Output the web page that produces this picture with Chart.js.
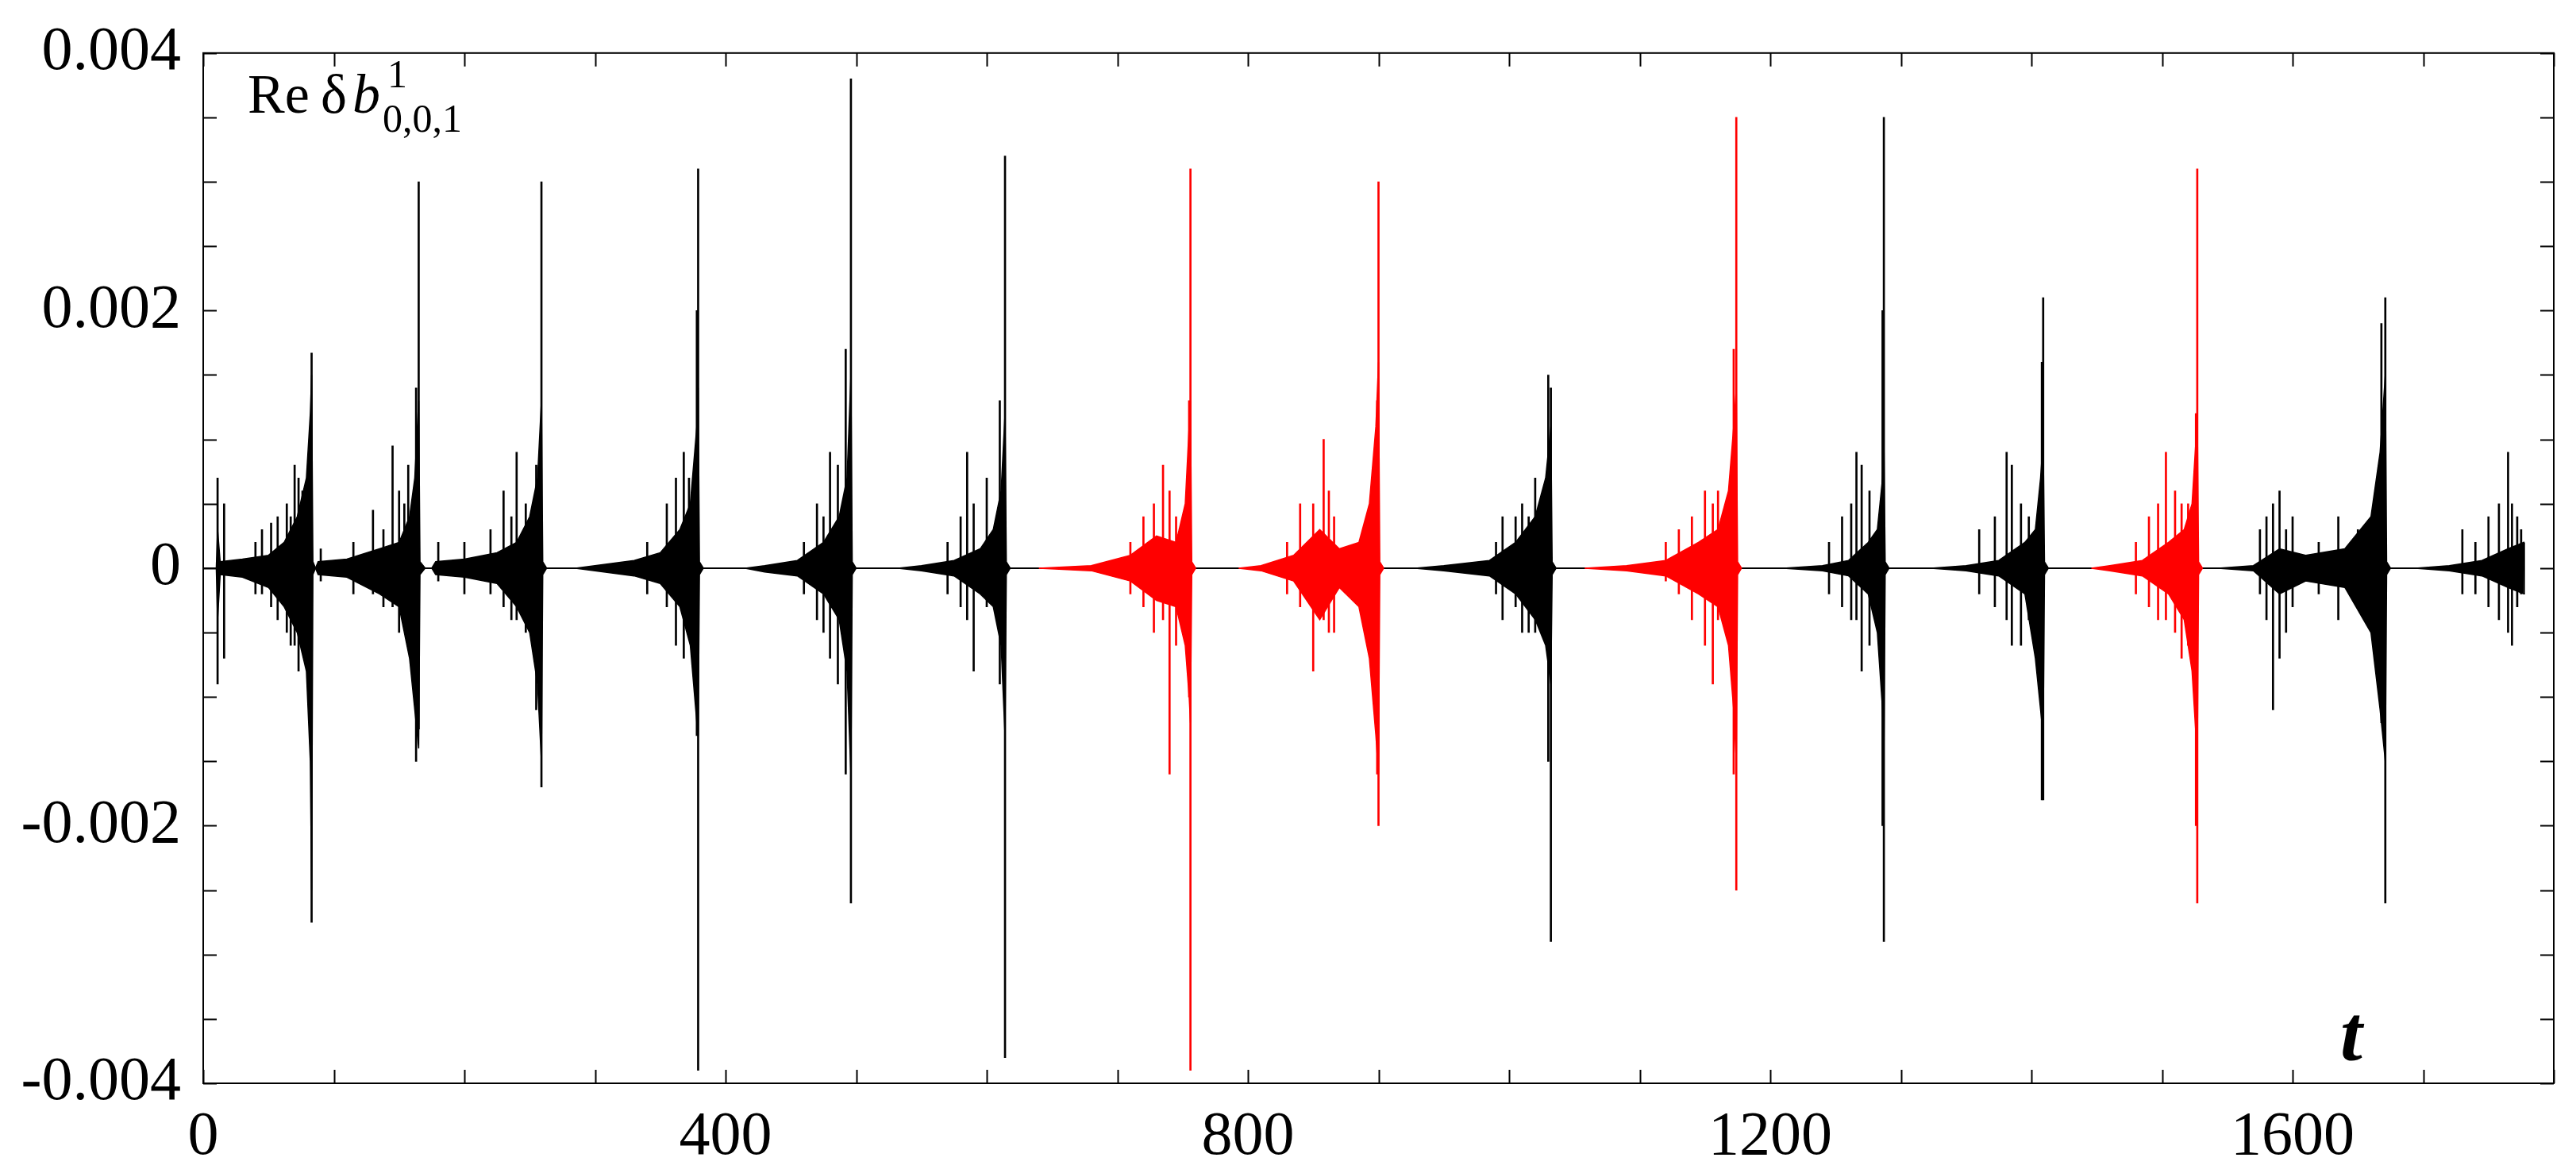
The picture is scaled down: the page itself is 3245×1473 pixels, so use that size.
<!DOCTYPE html>
<html><head><meta charset="utf-8">
<script src="https://cdn.jsdelivr.net/npm/chart.js@4"></script>
<style>html,body{margin:0;padding:0;background:#fff}canvas{display:block}</style>
</head><body>
<canvas id="c" width="3245" height="1473"></canvas>
<script>
// burst colours (black / red) in time order
const burstColors = ["black","black","black","black","black","black","red","red","black","red","black","black","red","black","black"];
// envelope of the dense oscillation core: [t, upper, lower]
const envelopes = [
 [[10,0,0],[11,0.0003,-0.0004],[13,0.00005,-0.00005],[30,0.00007,-0.00007],[50,0.0001,-0.00015],[62,0.0002,-0.0003],[72,0.0004,-0.0005],[79,0.0007,-0.0008],[82,0.0012,-0.0015],[83,0.0015,-0.0025],[84,0.00005,-0.00005],[86,0,0]],
 [[86,0,0],[88,0.00005,-0.00005],[110,0.00007,-0.00007],[135,0.00015,-0.0002],[150,0.0002,-0.0003],[158,0.0004,-0.0007],[162,0.0007,-0.0011],[165,0.0013,-0.0014],[166,0.00005,-0.00005],[170,0,0]],
 [[175,0,0],[178,0.00005,-0.00005],[200,0.00007,-0.00007],[225,0.00012,-0.00012],[240,0.0002,-0.0003],[250,0.0004,-0.0005],[256,0.0007,-0.0009],[259,0.0013,-0.0015],[260,0.00005,-0.00005],[263,0,0]],
 [[285,0,0],[300,0.00002,-0.00002],[330,0.00006,-0.00006],[350,0.00012,-0.00012],[365,0.0003,-0.0003],[373,0.0005,-0.0006],[378,0.0011,-0.0012],[379,0.0014,-0.0013],[380,0.00005,-0.00005],[383,0,0]],
 [[415,0,0],[430,0.00002,-0.00003],[455,0.00006,-0.00006],[475,0.0002,-0.0002],[487,0.0004,-0.0004],[493,0.0007,-0.0008],[496,0.0015,-0.0016],[497,0.00005,-0.00005],[500,0,0]],
 [[532,0,0],[550,0.00002,-0.00002],[575,0.00006,-0.00006],[595,0.00015,-0.0002],[605,0.0003,-0.0003],[611,0.0006,-0.0006],[614,0.0012,-0.0013],[615,0.00005,-0.00005],[618,0,0]],
 [[640,0,0],[680,0.00002,-0.00002],[710,0.0001,-0.0001],[730,0.00025,-0.00025],[745,0.0002,-0.0003],[752,0.0005,-0.0006],[755,0.0011,-0.0010],[756,0.0013,-0.0012],[757,0.00005,-0.00005],[760,0,0]],
 [[793,0,0],[810,0.00002,-0.00002],[835,0.0001,-0.0001],[855,0.0003,-0.0004],[870,0.00015,-0.00015],[885,0.0002,-0.0003],[893,0.0005,-0.0007],[898,0.0011,-0.0013],[900,0.0016,-0.0016],[901,0.00005,-0.00005],[904,0,0]],
 [[928,0,0],[950,0.00002,-0.00002],[985,0.00006,-0.00006],[1005,0.0002,-0.0002],[1020,0.0004,-0.0004],[1028,0.0007,-0.0006],[1032,0.0011,-0.0009],[1033,0.00005,-0.00005],[1036,0,0]],
 [[1058,0,0],[1090,0.00002,-0.00002],[1120,0.00006,-0.00006],[1145,0.0002,-0.0002],[1160,0.0003,-0.0003],[1168,0.0006,-0.0006],[1172,0.0011,-0.0011],[1174,0.0014,-0.0015],[1175,0.00005,-0.00005],[1178,0,0]],
 [[1210,0,0],[1240,0.00002,-0.00002],[1260,0.00006,-0.00006],[1275,0.0002,-0.0002],[1282,0.0003,-0.0005],[1286,0.0007,-0.0011],[1287,0.0010,-0.0015],[1288,0.00005,-0.00005],[1291,0,0]],
 [[1323,0,0],[1350,0.00002,-0.00002],[1375,0.00006,-0.00006],[1395,0.0002,-0.0002],[1403,0.0003,-0.0007],[1407,0.0007,-0.0011],[1409,0.0010,-0.0013],[1410,0.00005,-0.00005],[1413,0,0]],
 [[1446,0,0],[1460,0.00002,-0.00002],[1485,0.00006,-0.00006],[1505,0.0002,-0.0002],[1517,0.0003,-0.0004],[1523,0.0005,-0.0008],[1526,0.0010,-0.0013],[1527,0.0012,-0.0015],[1528,0.00005,-0.00005],[1531,0,0]],
 [[1543,0,0],[1570,0.00002,-0.00002],[1590,0.00015,-0.0002],[1610,0.0001,-0.0001],[1640,0.00015,-0.00015],[1660,0.0004,-0.0005],[1667,0.0009,-0.0011],[1671,0.0015,-0.0015],[1672,0.00005,-0.00005],[1675,0,0]],
 [[1694,0,0],[1720,0.00002,-0.00002],[1745,0.00006,-0.00006],[1765,0.00015,-0.00015],[1777,0.0002,-0.0002],[1777.5,0,0]]
];
// individual spikes: [t, max, min]
const spikes = [
 [[11,0.0007,-0.0009],[16,0.0005,-0.0007],[40,0.0002,-0.0002],[45,0.0003,-0.0002],[52,0.00035,-0.0003],[57,0.0004,-0.0004],[64,0.0005,-0.0005],[67,0.0004,-0.0006],[70,0.0008,-0.0006],[73,0.0007,-0.0008],[76,0.0006,-0.0005],[83,0.00167,-0.00275]],
 [[90,0.00015,-0.0001],[115,0.0002,-0.0002],[130,0.00045,-0.0002],[138,0.0003,-0.0003],[145,0.00095,-0.0003],[150,0.0006,-0.0005],[154,0.0005,-0.0004],[157,0.0008,-0.0004],[163,0.0014,-0.0015],[165,0.003,-0.00125]],
 [[180,0.0002,-0.0001],[200,0.0002,-0.0002],[220,0.0003,-0.0002],[230,0.0006,-0.0003],[236,0.0004,-0.0004],[240,0.0009,-0.0004],[247,0.0005,-0.0005],[255,0.0008,-0.0011],[259,0.003,-0.0017]],
 [[340,0.0002,-0.0002],[355,0.0005,-0.0003],[362,0.0007,-0.0006],[368,0.0009,-0.0007],[372,0.0007,-0.0005],[378,0.002,-0.0013],[379,0.0031,-0.0039]],
 [[460,0.0002,-0.0002],[470,0.0005,-0.0004],[475,0.0004,-0.0005],[480,0.0009,-0.0007],[486,0.0008,-0.0009],[492,0.0017,-0.0016],[496,0.0038,-0.0026]],
 [[570,0.0002,-0.0002],[580,0.0004,-0.0003],[585,0.0009,-0.0004],[590,0.0005,-0.0008],[600,0.0007,-0.0003],[610,0.0013,-0.0009],[614,0.0032,-0.0038]],
 [[710,0.0002,-0.0002],[720,0.0004,-0.0003],[728,0.0005,-0.0005],[735,0.0008,-0.0004],[740,0.0006,-0.0016],[745,0.0004,-0.0006],[755,0.0013,-0.0010],[756,0.0031,-0.0039]],
 [[830,0.0002,-0.0002],[840,0.0005,-0.0003],[850,0.0005,-0.0008],[858,0.0010,-0.0004],[862,0.0006,-0.0005],[866,0.0004,-0.0005],[899,0.0013,-0.0016],[900,0.0030,-0.0020]],
 [[990,0.0002,-0.0002],[995,0.0004,-0.0004],[1005,0.0004,-0.0003],[1010,0.0005,-0.0005],[1015,0.0004,-0.0005],[1020,0.0007,-0.0005],[1030,0.0015,-0.0015],[1032,0.0014,-0.0029]],
 [[1120,0.0002,-0.0001],[1130,0.0003,-0.0002],[1140,0.0004,-0.0004],[1150,0.0006,-0.0006],[1156,0.0005,-0.0009],[1160,0.0006,-0.0004],[1172,0.0017,-0.0016],[1174,0.0035,-0.0025]],
 [[1245,0.0002,-0.0002],[1255,0.0004,-0.0003],[1262,0.0005,-0.0004],[1266,0.0009,-0.0004],[1270,0.0008,-0.0008],[1276,0.0006,-0.0006],[1286,0.0020,-0.0020],[1287,0.0035,-0.0029]],
 [[1360,0.0003,-0.0002],[1372,0.0004,-0.0003],[1381,0.0009,-0.0004],[1385,0.0008,-0.0006],[1392,0.0005,-0.0006],[1398,0.0004,-0.0004],[1408,0.0016,-0.0018],[1409,0.0021,-0.0018]],
 [[1480,0.0002,-0.0002],[1490,0.0004,-0.0003],[1497,0.0005,-0.0004],[1503,0.0009,-0.0004],[1510,0.0006,-0.0005],[1515,0.0005,-0.0007],[1520,0.0005,-0.0006],[1526,0.0012,-0.0020],[1527,0.0031,-0.0026]],
 [[1575,0.0003,-0.0002],[1580,0.0004,-0.0004],[1585,0.0005,-0.0011],[1590,0.0006,-0.0007],[1595,0.0003,-0.0005],[1600,0.0004,-0.0003],[1620,0.0002,-0.0002],[1635,0.0004,-0.0004],[1650,0.0003,-0.0003],[1668,0.0019,-0.0012],[1671,0.0021,-0.0026]],
 [[1730,0.0003,-0.0002],[1740,0.0002,-0.0002],[1750,0.0004,-0.0003],[1758,0.0005,-0.0004],[1765,0.0009,-0.0005],[1768,0.0005,-0.0006],[1772,0.0004,-0.0003],[1775,0.0003,-0.0002]]
];
const baseline = [[0,0],[1777,0]];
const xMin = 0, xMax = 1800, yMin = -0.004, yMax = 0.004;
const xLabelEvery = 400, yLabelEvery = 0.002;

const colorMap = {black:"#000000", red:"#ff0000"};
const datasets = [];
datasets.push({type:'line', data: baseline.map(p=>({x:p[0],y:p[1]})), borderColor:'#000', borderWidth:2, pointRadius:0, fill:false, order:3});
envelopes.forEach((env,i)=>{
  const c = colorMap[burstColors[i]];
  datasets.push({type:'line', data: env.map(p=>({x:p[0],y:p[1]})), borderColor:c, backgroundColor:c, borderWidth:1.5, pointRadius:0, fill:'+1', tension:0, order:2});
  datasets.push({type:'line', data: env.map(p=>({x:p[0],y:p[2]})), borderColor:c, backgroundColor:c, borderWidth:1.5, pointRadius:0, fill:false, tension:0, order:2});
});
spikes.forEach((sp,i)=>{
  const c = colorMap[burstColors[i]];
  datasets.push({type:'bar', data: sp.map(p=>({x:p[0],y:[p[2],p[1]]})), backgroundColor:c, borderWidth:0, barThickness:2, grouped:false, order:1});
});

const innerTicks = {
  id:'innerTicks',
  afterDraw(chart){
    const {ctx, chartArea:a, scales:{x,y}} = chart;
    ctx.save();
    ctx.strokeStyle='#000'; ctx.lineWidth=2;
    ctx.strokeRect(a.left, a.top, a.right-a.left, a.bottom-a.top);
    ctx.beginPath();
    for (let v=xMin; v<=xMax+1e-9; v+=100){
      const px = Math.round(x.getPixelForValue(v))+0.5;
      ctx.moveTo(px,a.bottom); ctx.lineTo(px,a.bottom-17);
      ctx.moveTo(px,a.top); ctx.lineTo(px,a.top+17);
    }
    for (let k=-8;k<=8;k++){
      const py = Math.round(y.getPixelForValue(k*0.0005))+0.5;
      ctx.moveTo(a.left,py); ctx.lineTo(a.left+17,py);
      ctx.moveTo(a.right,py); ctx.lineTo(a.right-17,py);
    }
    ctx.stroke();
    ctx.fillStyle='#000'; ctx.textBaseline='alphabetic';
    ctx.font='70px "Liberation Serif"';
    ctx.fillText('Re', 312, 142);
    ctx.fillText('δ', 404, 142);
    ctx.font='italic 70px "Liberation Serif"';
    ctx.fillText('b', 444, 142);
    ctx.font='50px "Liberation Serif"';
    ctx.fillText('1', 488, 110);
    ctx.fillText('0,0,1', 482, 166);
    ctx.font='italic bold 100px "Liberation Serif"';
    ctx.fillText('t', 2948, 1336);
    ctx.restore();
  }
};

new Chart(document.getElementById('c'), {
  data:{datasets},
  options:{
    responsive:false, animation:false, devicePixelRatio:1,
    layout:{padding:{top:28, right:28, left:0, bottom:0}},
    plugins:{legend:{display:false}, tooltip:{enabled:false}},
    scales:{
      x:{type:'linear', min:xMin, max:xMax, offset:false, border:{display:false},
         grid:{display:false, offset:false},
         afterFit(s){ s.height = 108; },
         afterBuildTicks(s){ const t=[]; for(let v=xMin; v<=1600; v+=xLabelEvery) t.push({value:v}); s.ticks=t; },
         ticks:{color:'#000', padding:14, maxRotation:0, autoSkip:false, font:{family:'"Liberation Serif"', size:78},
           callback:v=>String(v)}},
      y:{type:'linear', min:yMin, max:yMax, border:{display:false},
         grid:{display:false},
         afterFit(s){ s.width = 256; },
         afterBuildTicks(s){ const t=[]; for(let k=-2;k<=2;k++) t.push({value:k*yLabelEvery}); s.ticks=t; },
         ticks:{color:'#000', padding:20, autoSkip:false, font:{family:'"Liberation Serif"', size:78},
           callback:v=> Math.abs(v)<1e-9 ? '0' : v.toFixed(3)}}
    }
  },
  plugins:[innerTicks]
});
</script>
</body></html>
